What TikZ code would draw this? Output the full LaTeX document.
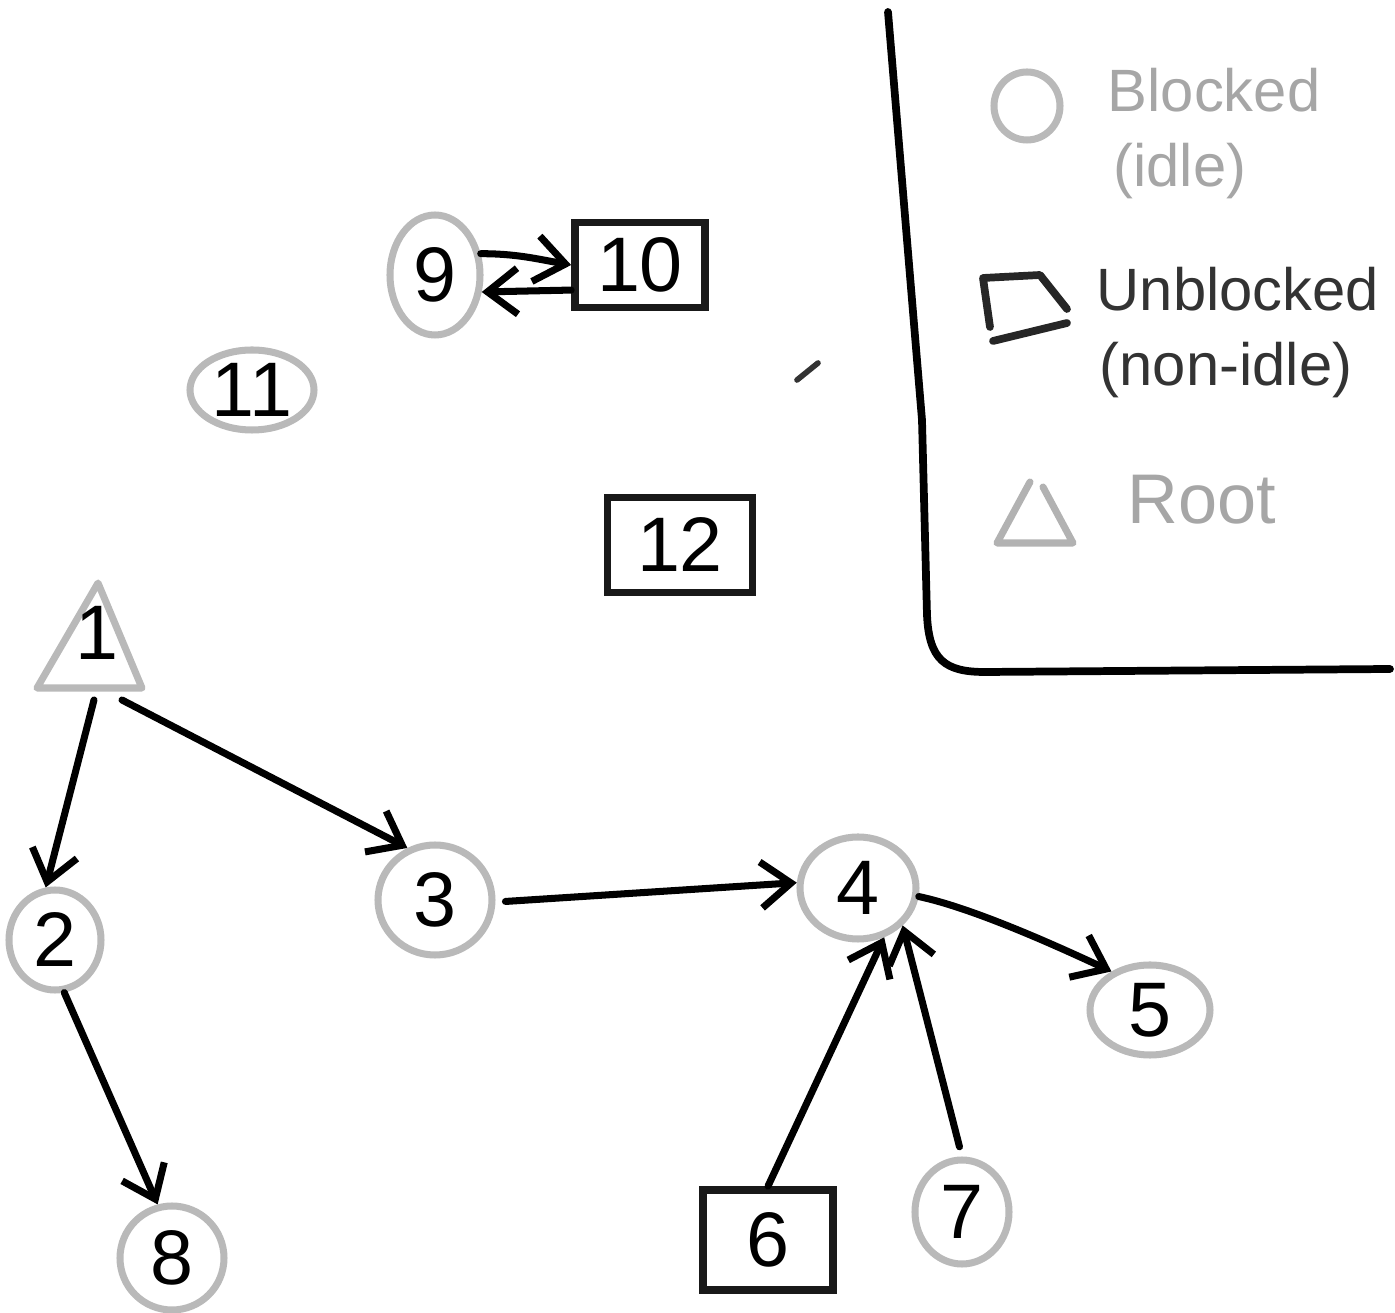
\documentclass[tikz,border=0pt]{standalone}
\usepackage{fontspec}
\setmainfont{Liberation Sans}
\usetikzlibrary{arrows.meta,shapes.geometric}
\begin{document}
\begin{tikzpicture}[x=0.1mm,y=-0.1mm,
  nodefont/.style={font=\fontsize{22}{24}\selectfont},
  blocked/.style={ellipse, draw=gray!55, line width=2pt, inner sep=0pt, nodefont},
  unblocked/.style={rectangle, draw=black!90, line width=2.2pt, inner sep=0pt, nodefont},
  edge/.style={line width=2pt, line cap=round, -{Straight Barb[length=3mm,width=4.6mm]}},
  legtext/.style={font=\fontsize{17}{20}\selectfont, inner sep=0pt},
  frame/.style={line width=2.2pt, line cap=round, line join=round}
]
\useasboundingbox (0,0) rectangle (1395,1313);

% legend frame
\draw[frame] (888,12) -- (922,420) -- (927,615) .. controls (929,660) and (945,672) .. (985,672) -- (1390,669);

% legend
\node[ellipse, draw=gray!55, line width=2pt, minimum width=6.6mm, minimum height=6.8mm] (lc) at (1027,106) {};
\node[legtext, text=gray!70] (lb) at (1214,90) {Blocked};
\node[legtext, text=gray!70] (li) at (1180,171) {(idle)};
\draw[line width=2.2pt, black!85, line cap=round, line join=round] (990,327) -- (983,278) -- (1040,275) -- (1067,309);
\draw[line width=2.2pt, black!85, line cap=round] (993,341) -- (1067,323);
\node[legtext, text=black!80] (lu) at (1238,289) {Unblocked};
\node[legtext, text=black!80] (ln) at (1226,370) {(non-idle)};
\draw[line width=2pt, gray!60, line cap=round, line join=round] (1030,482) -- (997,543) -- (1073,543) -- (1043,487);
\node[legtext, text=gray!70, font=\fontsize{20}{22}\selectfont] (lr) at (1202,500) {Root};

% stray mark
\draw[line width=1.6pt, line cap=round, black!80] (797,380) -- (818,363);

% root triangle
\draw[gray!55, line width=2pt, line join=round] (98,583) -- (37,688) -- (142,688) -- cycle;
\node[nodefont, inner sep=0pt] (n1) at (97,633) {1};
\coordinate (n1a) at (94,700);
\coordinate (n1b) at (122,700);

% nodes
\node[blocked, minimum width=9.2mm, minimum height=10mm] (n2) at (55,940) {2};
\node[blocked, minimum width=11.4mm, minimum height=11mm] (n3) at (435,900) {3};
\node[blocked, minimum width=11.6mm, minimum height=10.2mm] (n4) at (858,888) {4};
\node[blocked, minimum width=12mm, minimum height=9mm] (n5) at (1150,1010) {5};
\node[unblocked, minimum width=13mm, minimum height=10mm] (n6) at (768,1240) {6};
\node[blocked, minimum width=9.4mm, minimum height=10.4mm] (n7) at (962,1212) {7};
\node[blocked, minimum width=10.4mm, minimum height=10.4mm] (n8) at (172,1258) {8};
\node[blocked, minimum width=9mm, minimum height=12mm] (n9) at (435,275) {9};
\node[unblocked, minimum width=13mm, minimum height=8.5mm] (n10) at (640,265) {10};
\node[blocked, minimum width=12.4mm, minimum height=8mm] (n11) at (252,390) {11};
\node[unblocked, minimum width=14.5mm, minimum height=9.5mm] (n12) at (680,545) {12};

% edges
\draw[edge] (n1a) -- (n2.100);
\draw[edge] (n1b) -- (n3.118);
\draw[edge, shorten <=1mm] (n3.-2) -- (n4.175);
\draw[edge] (n4.-8) to[out=-12, in=155, looseness=0.7] (n5.135);
\draw[edge] (n6.north) -- (n4.-62);
\draw[edge, shorten <=1mm] (n7.north) -- (n4.-40);
\draw[edge] (n2.-80) -- (n8.105);
\draw[edge] (n9.25) to[out=0, in=170] (n10.west);
\draw[edge] (n10.200) -- (n9.-20);
\end{tikzpicture}
\end{document}
